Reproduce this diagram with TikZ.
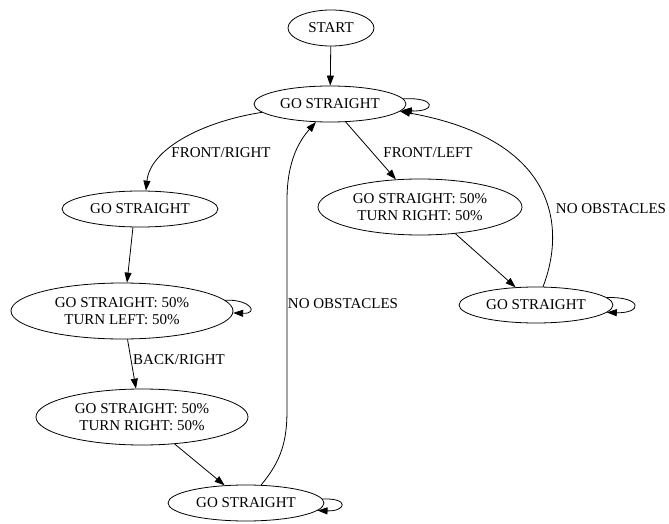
\documentclass[tikz,border=0pt]{standalone}
\usepackage{fontspec}
\setmainfont{Liberation Serif}
\usetikzlibrary{arrows.meta,shapes.geometric}
\begin{document}
\begin{tikzpicture}[x=1pt,y=-1pt,
  state/.style={ellipse,draw,line width=0.8pt,inner sep=0pt,align=center,
    font=\fontsize{15}{17}\selectfont},
  lbl/.style={inner sep=0pt,font=\fontsize{15}{17}\selectfont},
  edge/.style={line width=0.8pt,-{Triangle[length=10pt,width=7pt]}}]
\useasboundingbox (0,0) rectangle (669,524);
% nodes
\node[state,minimum width=86pt,minimum height=36pt] (start) at (331,28) {START};
\node[state,minimum width=152pt,minimum height=36pt] (top) at (330,104) {GO STRAIGHT};
\node[state,minimum width=156pt,minimum height=36pt] (lgs) at (140,209) {GO STRAIGHT};
\node[state,minimum width=204pt,minimum height=56pt] (r50) at (420,207) {GO STRAIGHT: 50\%\\TURN RIGHT: 50\%};
\node[state,minimum width=222pt,minimum height=56pt] (l50) at (122,311) {GO STRAIGHT: 50\%\\TURN LEFT: 50\%};
\node[state,minimum width=154pt,minimum height=36pt] (rgs) at (536,305) {GO STRAIGHT};
\node[state,minimum width=212pt,minimum height=56pt] (lr50) at (142,417) {GO STRAIGHT: 50\%\\TURN RIGHT: 50\%};
\node[state,minimum width=156pt,minimum height=36pt] (bgs) at (246,503) {GO STRAIGHT};
% labels
\node[lbl] (lfr) at (221,153) {FRONT/RIGHT};
\node[lbl] (lfl) at (428,153) {FRONT/LEFT};
\node[lbl] (lbr) at (179,360) {BACK/RIGHT};
\node[lbl] (lno1) at (343,304) {NO OBSTACLES};
\node[lbl] (lno2) at (611,209) {NO OBSTACLES};
% edges
\draw[edge] (start) -- (top);
\draw[edge] (top.4) .. controls +(34,-2) and +(34,2) .. (top.-5);
\draw[edge] (top.187) .. controls (200,122) and (150,150) .. (lgs.72);
\draw[edge] (top) -- (r50);
\draw[edge] (lgs.-111) -- (l50.80);
\draw[edge] (l50.6) .. controls +(26,-1) and +(26,1) .. (l50.-1);
\draw[edge] (l50.-79) -- (lr50.102);
\draw[edge] (lr50) -- (bgs);
\draw[edge] (bgs.3) .. controls +(28,-1) and +(28,1) .. (bgs.-6);
\draw[edge] (bgs.50) .. controls (282,460) and (287,440) .. (287,410) -- (287,200)
  .. controls (287,160) and (300,140) .. (top.-128);
\draw[edge] (r50.-37) -- (rgs.139);
\draw[edge] (rgs.6) .. controls +(36,-1) and +(36,1) .. (rgs.-6);
\draw[edge] (rgs.69) .. controls (565,230) and (560,140) .. (top.-6);
\end{tikzpicture}
\end{document}
